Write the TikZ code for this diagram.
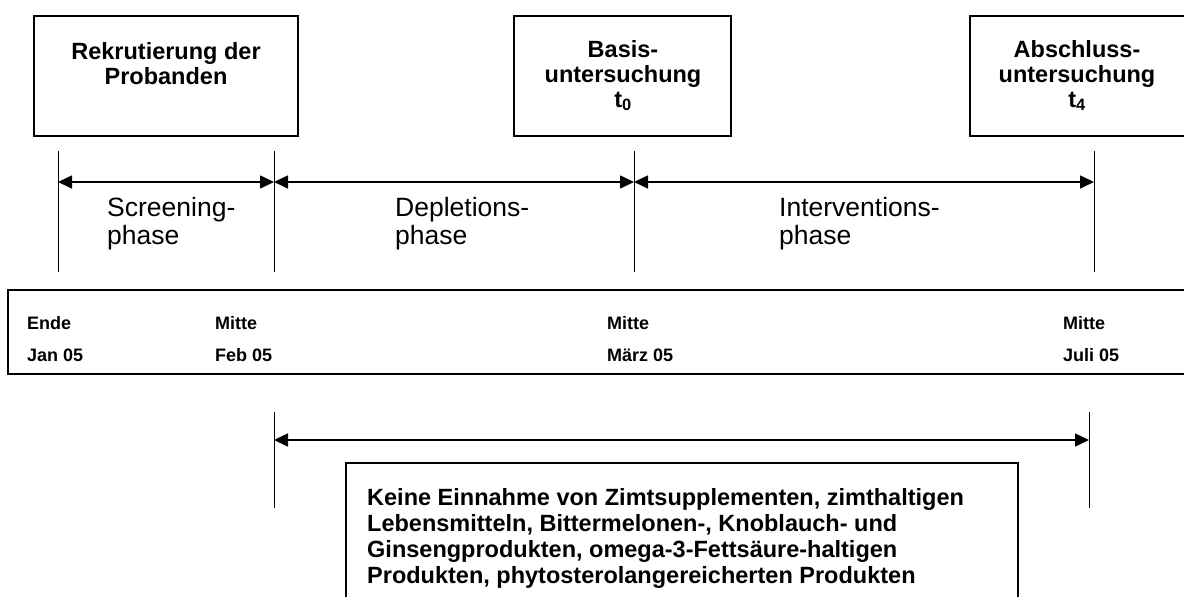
\documentclass[tikz,border=0pt]{standalone}
\usepackage{fontspec}
\setmainfont{Liberation Sans}
\usetikzlibrary{arrows.meta}
\tikzset{
  boxline/.style={line width=1.6pt},
  tickline/.style={line width=1pt},
  spanline/.style={line width=1.5pt, {Triangle[length=14pt,width=13pt]}-{Triangle[length=14pt,width=13pt]}},
  headtext/.style={inner sep=0pt, anchor=north, align=center, font=\bfseries\fontsize{23.5}{25}\selectfont},
  phasetext/.style={inner sep=0pt, anchor=north west, align=left, font=\fontsize{26.5}{28}\selectfont},
  datetext/.style={inner sep=0pt, anchor=north west, align=left, font=\bfseries\fontsize{18}{32}\selectfont},
  notetext/.style={inner sep=0pt, anchor=north west, align=left, font=\bfseries\fontsize{23.5}{26}\selectfont}
}
\begin{document}
\begin{tikzpicture}[x=1pt,y=-1pt]
            \clip (0,0) rectangle (1184,597);
            % events
            \draw[boxline] (34,16) rectangle (298,136);
            \draw[boxline] (514,16) rectangle (731,136);
            \draw[boxline] (970,16) rectangle (1190,136);
            \node[headtext] (rekrut) at (166,42) {Rekrutierung der\\Probanden};
            \node[headtext] (basis) at (623,40) {Basis-\\untersuchung\\t\textsubscript{0}};
            \node[headtext] (abschluss) at (1077,40) {Abschluss-\\untersuchung\\t\textsubscript{4}};
            % ticks and phases
            \coordinate (endetop) at (58,151);   \coordinate (endebot) at (58,272);   \coordinate (endemid) at (58,182);
            \coordinate (febtop) at (274,151);   \coordinate (febbot) at (274,272);   \coordinate (febmid) at (274,182);
            \coordinate (maerztop) at (634,151); \coordinate (maerzbot) at (634,272); \coordinate (maerzmid) at (634,182);
            \coordinate (julitop) at (1094,151); \coordinate (julibot) at (1094,272); \coordinate (julimid) at (1094,182);
            \draw[tickline] (endetop) -- (endebot);
            \draw[tickline] (febtop) -- (febbot);
            \draw[tickline] (maerztop) -- (maerzbot);
            \draw[tickline] (julitop) -- (julibot);
            \draw[spanline] (endemid) -- (febmid);
            \draw[spanline] (febmid) -- (maerzmid);
            \draw[spanline] (maerzmid) -- (julimid);
            \node[phasetext] (screening) at (107,197) {Screening-\\phase};
            \node[phasetext] (depletion) at (395,197) {Depletions-\\phase};
            \node[phasetext] (intervention) at (779,197) {Interventions-\\phase};
            % dates
            \draw[boxline] (8,290) rectangle (1190,374);
            \node[datetext] (d1) at (27,316) {Ende\\Jan 05};
            \node[datetext] (d2) at (215,316) {Mitte\\Feb 05};
            \node[datetext] (d3) at (607,316) {Mitte\\März 05};
            \node[datetext] (d4) at (1063,316) {Mitte\\Juli 05};
            % restriction
            \coordinate (rtop) at (274,412);
            \coordinate (rbot) at (274,508);
            \coordinate (rmid) at (274,440);
            \coordinate (qtop) at (1089,412);
            \coordinate (qbot) at (1089,508);
            \coordinate (qmid) at (1089,440);
            \draw[tickline] (rtop) -- (rbot);
            \draw[tickline] (qtop) -- (qbot);
            \draw[spanline] (rmid) -- (qmid);
            \draw[boxline] (346,463) rectangle (1018,620);
            \node[notetext] (keine) at (367,488) {Keine Einnahme von Zimtsupplementen, zimthaltigen\\Lebensmitteln, Bittermelonen-, Knoblauch- und\\Ginsengprodukten, omega-3-Fettsäure-haltigen\\Produkten, phytosterolangereicherten Produkten};
        \end{tikzpicture}
\end{document}
